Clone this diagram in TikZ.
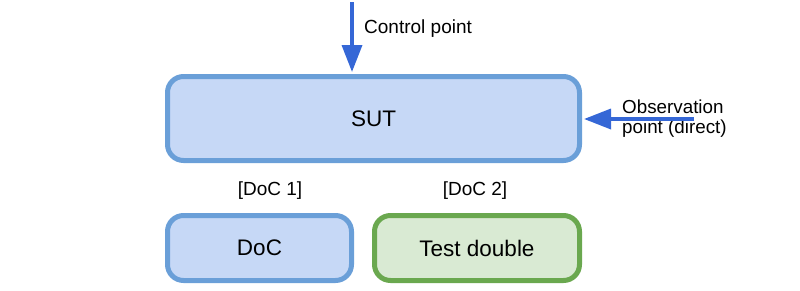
\documentclass[tikz,border=0pt]{standalone}
\usepackage{fontspec}
\setmainfont{Liberation Sans}
\usetikzlibrary{arrows.meta}
\definecolor{bluefill}{HTML}{C6D8F6}
\definecolor{blueline}{HTML}{6A9FD8}
\definecolor{greenfill}{HTML}{D9EAD3}
\definecolor{greenline}{HTML}{6AA84F}
\definecolor{arrowblue}{HTML}{3567D6}
\tikzset{
  boxstyle/.style={draw=blueline, fill=bluefill, line width=5pt, rounded corners=16pt, font=\fontsize{22.5}{26}\selectfont, inner sep=0pt},
  greenbox/.style={boxstyle, draw=greenline, fill=greenfill},
  lbl/.style={font=\fontsize{19}{23}\selectfont, inner sep=0pt},
  arr/.style={draw=arrowblue, line width=3.5pt, -{Triangle[width=20pt,length=27pt]}, shorten >=2pt}
}
\begin{document}
\begin{tikzpicture}[x=1pt,y=-1pt]
\useasboundingbox (0,0) rectangle (800,290);
\node[boxstyle, minimum width=412pt, minimum height=84pt] (SUT) at (373.5,118.5) {SUT};
\node[boxstyle, minimum width=184pt, minimum height=65pt] (doc) at (259.5,248) {DoC};
\node[greenbox, minimum width=205pt, minimum height=65pt] (td) at (477,248) {Test double};
\node[lbl] (l1) at (270,191) {[DoC 1]};
\node[lbl] (l2) at (475,191) {[DoC 2]};
\node[lbl, anchor=west] (cpl) at (364,29) {Control point};
\node[lbl, anchor=west, align=left, font=\fontsize{18.8}{19.5}\selectfont] (obl) at (622,118.5) {Observation\\point (direct)};
\coordinate (cp) at (352,2);
\coordinate (ob) at (694,119);
\draw[arr] (cp) -- (cp |- SUT.north);
\draw[arr] (ob) -- (SUT.east |- ob);
\end{tikzpicture}
\end{document}
